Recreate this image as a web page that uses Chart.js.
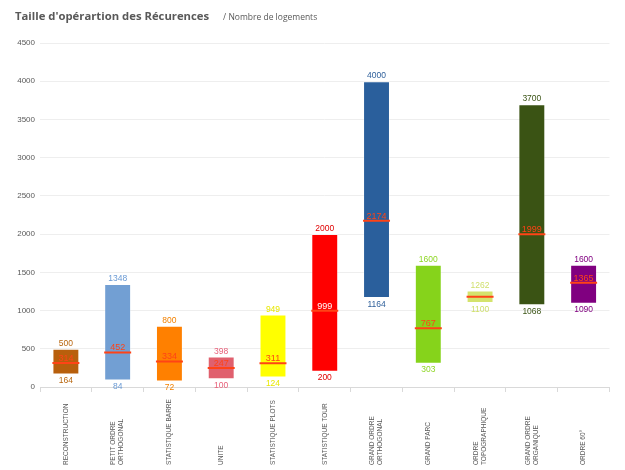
<!DOCTYPE html>
<html>
<head>
<meta charset="utf-8">
<script src="https://cdn.jsdelivr.net/npm/chart.js@4.4.1/dist/chart.umd.min.js"></script>
<style>
  body { margin: 0; background: #fff; }
  #wrap { position: relative; width: 625px; height: 470px; }
  #title { position: absolute; left: 15px; top: 8px; font: bold 11.3px "Open Sans", sans-serif; color: #595959; white-space: nowrap; }
  #title span { font-weight: normal; font-size: 8.5px; margin-left: 11px; }
</style>
</head>
<body>
<div id="wrap">
  <canvas id="myChart" width="625" height="470"></canvas>
  <div id="title">Taille d'opérartion des Récurences <span>/ Nombre de logements</span></div>
</div>
<script>
// categories (multi-line labels)
const categories = [
    ['RECONSTRUCTION'],
    ['PETIT ORDRE', 'ORTHOGONAL'],
    ['STATISTIQUE BARRE'],
    ['UNITE'],
    ['STATISTIQUE PLOTS'],
    ['STATISTIQUE TOUR'],
    ['GRAND ORDRE', 'ORTHOGONAL'],
    ['GRAND PARC'],
    ['ORDRE', 'TOPOGRAPHIQUE'],
    ['GRAND ORDRE', 'ORGANIQUE'],
    ['ORDRE 60°']
];
const minValues = [164, 84, 72, 100, 124, 200, 1164, 303, 1100, 1068, 1090];
const maxValues = [500, 1348, 800, 398, 949, 2000, 4000, 1600, 1262, 3700, 1600];
const medianValues = [314, 452, 334, 247, 311, 999, 2174, 767, 1180, 1999, 1365];
const yTicks = [0, 500, 1000, 1500, 2000, 2500, 3000, 3500, 4000, 4500];

const barColors = ['#B85F0C', '#729FD3', '#FF8000', '#E0606E', '#FFFF00', '#FF0000',
                   '#2A5F9C', '#86D31B', '#D4E36C', '#3A5314', '#800080'];
const textColors = ['#B8660F', '#6A9AD4', '#F28100', '#E8607A', '#E8E800', '#E00000',
                    '#2E5F9A', '#8ED624', '#CFDF6A', '#3A5314', '#800080'];
const medianColor = '#FF4316';

const ranges = minValues.map((v, i) => [v, maxValues[i]]);

// value labels + rotated category labels
const labelPlugin = {
    id: 'labelPlugin',
    afterDatasetsDraw(chart) {
        const ctx = chart.ctx;
        const bars = chart.getDatasetMeta(0).data;
        const meds = chart.getDatasetMeta(1).data;
        ctx.save();
        ctx.font = '8.5px "Liberation Sans", Arial, sans-serif';
        ctx.textAlign = 'center';
        bars.forEach((bar, i) => {
            const top = Math.min(bar.y, bar.base);
            const bottom = Math.max(bar.y, bar.base);
            ctx.fillStyle = textColors[i];
            ctx.textBaseline = 'bottom';
            ctx.fillText(maxValues[i], bar.x, top - 1);
            ctx.textBaseline = 'top';
            ctx.fillText(minValues[i], bar.x, bottom + 2);
        });
        ctx.font = '9px "Liberation Sans", Arial, sans-serif';
        meds.forEach((pt, i) => {
            if (i === 8) return; // no label shown on this one
            ctx.fillStyle = i === 5 ? '#FFFFFF' : medianColor;
            ctx.textBaseline = 'alphabetic';
            ctx.fillText(medianValues[i], pt.x, pt.y - 2);
        });

        // x labels, rotated, bottom aligned
        const xs = chart.scales.x;
        ctx.font = '6.5px "Liberation Sans", Arial, sans-serif';
        ctx.fillStyle = '#595959';
        ctx.textAlign = 'left';
        ctx.textBaseline = 'middle';
        categories.forEach((lines, i) => {
            const x = xs.getPixelForValue(i);
            ctx.save();
            ctx.translate(x, 465);
            ctx.rotate(-Math.PI / 2);
            lines.forEach((line, j) => {
                ctx.fillText(line, 0, (j - (lines.length - 1) / 2) * 8);
            });
            ctx.restore();
        });
        ctx.restore();
    }
};

const ctx = document.getElementById('myChart').getContext('2d');
const myChart = new Chart(ctx, {
    type: 'bar',
    data: {
        labels: categories,
        datasets: [{
            data: ranges,
            backgroundColor: barColors,
            borderColor: 'rgba(255,255,255,0.35)',
            borderWidth: 1,
            borderSkipped: false,
            barPercentage: 0.52,
            categoryPercentage: 1.0,
            order: 2
        }, {
            type: 'line',
            data: medianValues,
            showLine: false,
            pointStyle: 'line',
            pointRadius: 13.5,
            pointHoverRadius: 13.5,
            pointBorderWidth: 2,
            pointBorderColor: medianColor,
            borderColor: medianColor,
            order: 1
        }]
    },
    options: {
        responsive: false,
        animation: false,
        layout: { padding: { top: 43, right: 8, left: 0, bottom: 0 } },
        plugins: {
            legend: { display: false },
            tooltip: { enabled: false }
        },
        scales: {
            x: {
                offset: true,
                grid: { drawOnChartArea: false, tickLength: 5, color: '#D9D9D9' },
                border: { color: '#D9D9D9' },
                ticks: { display: false },
                afterFit: (s) => { s.height = 83; }
            },
            y: {
                min: 0,
                max: 4500,
                afterBuildTicks: (s) => { s.ticks = yTicks.map(v => ({ value: v })); },
                grid: { color: '#EEEEEE', drawTicks: false },
                border: { display: false },
                ticks: {
                    padding: 5,
                    color: '#595959',
                    font: { size: 8, family: '"Liberation Sans", Arial, sans-serif' },
                    callback: (v) => String(v)
                },
                afterFit: (s) => { s.width = 40; }
            }
        }
    },
    plugins: [labelPlugin]
});
</script>
</body>
</html>
